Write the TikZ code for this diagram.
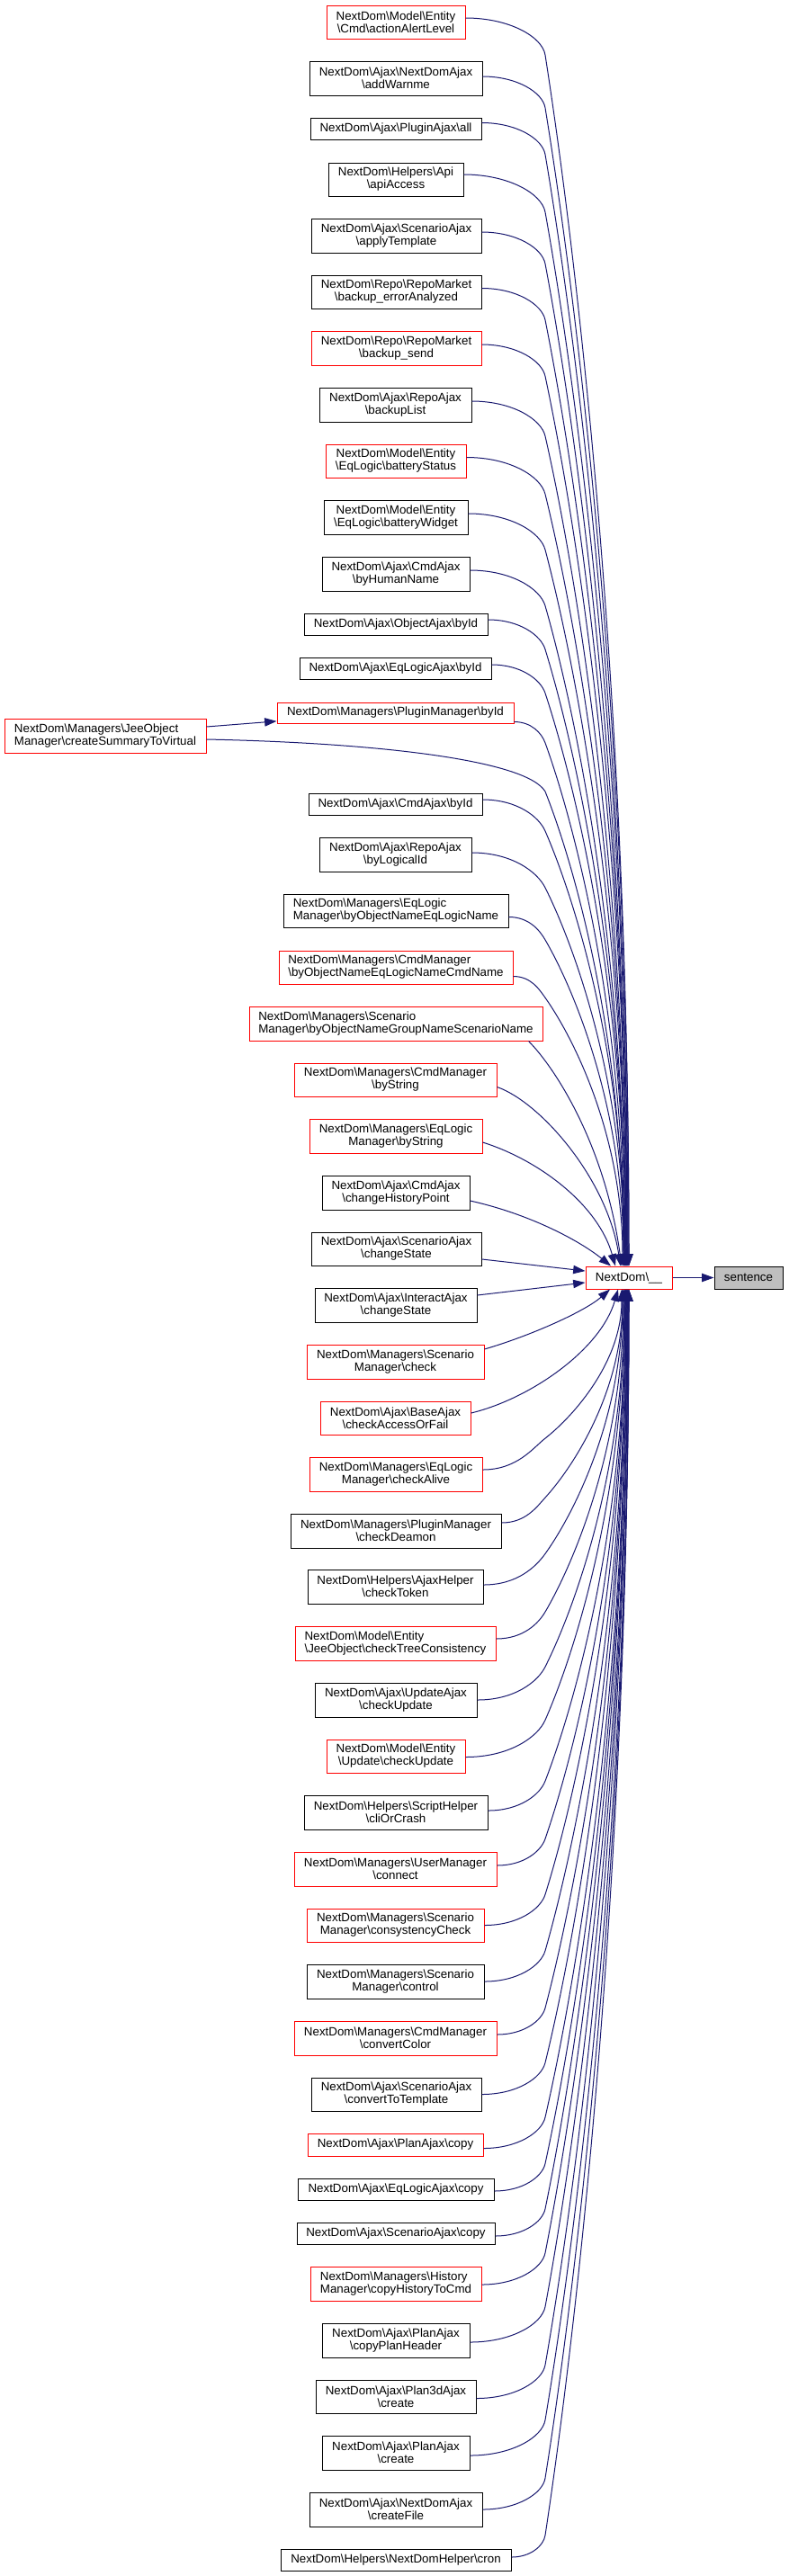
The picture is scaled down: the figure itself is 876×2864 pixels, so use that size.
\documentclass[tikz,border=0pt]{standalone}
\usepackage{fontspec}
\setmainfont{Liberation Sans}
\usetikzlibrary{arrows.meta,calc}
\definecolor{edgec}{HTML}{191970}
\definecolor{graybox}{HTML}{BFBFBF}
\newcommand\bs{\textbackslash}
\newcommand\bx[7]{\node[#6, minimum width={(#4-#2)*0.75pt}, minimum height={(#5-#3)*0.75pt}] (#1) at ({(#2+#4)/2},{(#3+#5)/2}) {#7};}
% far edge: #1 src, #2 start dy (px, +down), #3 tip x (px), #4 anchor, #5 sign (+1 src above, -1 below)
\newcommand\fedge[5]{%
  \path (#1.east); \pgfgetlastxy{\qEX}{\qEY}%
  \path (nd.#4); \pgfgetlastxy{\qTX}{\qTY}%
  \pgfmathsetmacro\qSx{\qEX/0.75}%
  \pgfmathsetmacro\qSy{-\qEY/0.75+#2}%
  \pgfmathsetmacro\qTy{-\qTY/0.75}%
  \pgfmathsetmacro\qHb{12+0.33*(606-\qSx)}%
  \pgfmathsetmacro\qBy{\qSy+#5*\qHb}%
  \pgfmathsetmacro\qD{abs(\qTy-\qBy)}%
  \pgfmathsetmacro\qCby{\qBy+#5*0.157*\qD}%
  \pgfmathsetmacro\qL{veclen(33,0.157*\qD)}%
  \pgfmathsetmacro\qCax{606-33/\qL*0.5*\qHb}%
  \pgfmathsetmacro\qCay{\qBy-#5*0.157*\qD/\qL*0.5*\qHb}%
  \pgfmathsetmacro\qCsx{\qSx+0.55*(606-\qSx)}%
  \pgfmathsetmacro\qCdy{\qTy-#5*0.48*\qD}%
  \draw[edge] ([yshift={-(#2)*0.75pt}]#1.east) .. controls (\qCsx,\qSy) and (\qCax,\qCay) .. (606,\qBy) .. controls (639,\qCby) and (#3,\qCdy) .. ([xshift={(#3-699)*0.75pt}]nd.#4);%
}
\tikzset{
  box/.style={draw, rectangle, inner sep=0pt, line width=0.75pt, font=\fontsize{10}{10.5}\selectfont, align=center, fill=white, text=black},
  rbox/.style={box, draw=red},
  kbox/.style={box, draw=black},
  lr/.style={rbox, align=left},
  lk/.style={kbox, align=left},
  gbox/.style={box, draw=black, fill=graybox},
  edge/.style={draw=edgec, line width=0.75pt, -{Triangle[length=10pt,width=7pt,fill=edgec]}},
}
\begin{document}
\begin{tikzpicture}[x=0.75pt,y=-0.75pt]
\useasboundingbox[fill=white] (0,0) rectangle (876,2864);
\bx{n01}{363}{6}{517}{43}{rbox}{NextDom\bs Model\bs Entity\\\bs Cmd\bs actionAlertLevel}
\bx{n02}{344}{68}{536}{106}{kbox}{NextDom\bs Ajax\bs NextDomAjax\\\bs addWarnme}
\bx{n03}{345}{131}{535}{155}{kbox}{NextDom\bs Ajax\bs PluginAjax\bs all}
\bx{n04}{365}{181}{515}{218}{kbox}{NextDom\bs Helpers\bs Api\\\bs apiAccess}
\bx{n05}{346}{243}{535}{281}{kbox}{NextDom\bs Ajax\bs ScenarioAjax\\\bs applyTemplate}
\bx{n06}{346}{306}{535}{343}{kbox}{NextDom\bs Repo\bs RepoMarket\\\bs backup\_errorAnalyzed}
\bx{n07}{346}{368}{535}{406}{rbox}{NextDom\bs Repo\bs RepoMarket\\\bs backup\_send}
\bx{n08}{355}{431}{524}{469}{kbox}{NextDom\bs Ajax\bs RepoAjax\\\bs backupList}
\bx{n09}{362}{494}{518}{531}{rbox}{NextDom\bs Model\bs Entity\\\bs EqLogic\bs batteryStatus}
\bx{n10}{360}{556}{520}{594}{kbox}{NextDom\bs Model\bs Entity\\\bs EqLogic\bs batteryWidget}
\bx{n11}{358}{619}{522}{657}{kbox}{NextDom\bs Ajax\bs CmdAjax\\\bs byHumanName}
\bx{n12}{338}{682}{542}{706}{kbox}{NextDom\bs Ajax\bs ObjectAjax\bs byId}
\bx{n13}{333}{731}{546}{755}{kbox}{NextDom\bs Ajax\bs EqLogicAjax\bs byId}
\bx{n14}{308}{781}{571}{804}{rbox}{NextDom\bs Managers\bs PluginManager\bs byId}
\bx{n15}{5}{799}{229}{837}{lr}{NextDom\bs Managers\bs JeeObject\\Manager\bs createSummaryToVirtual}
\bx{n16}{343}{882}{536}{906}{kbox}{NextDom\bs Ajax\bs CmdAjax\bs byId}
\bx{n17}{355}{931}{524}{969}{kbox}{NextDom\bs Ajax\bs RepoAjax\\\bs byLogicalId}
\bx{n18}{315}{994}{565}{1031}{lk}{NextDom\bs Managers\bs EqLogic\\Manager\bs byObjectNameEqLogicName}
\bx{n19}{310}{1057}{570}{1094}{lr}{NextDom\bs Managers\bs CmdManager\\\bs byObjectNameEqLogicNameCmdName}
\bx{n20}{277}{1119}{603}{1157}{lr}{NextDom\bs Managers\bs Scenario\\Manager\bs byObjectNameGroupNameScenarioName}
\bx{n21}{327}{1182}{552}{1219}{rbox}{NextDom\bs Managers\bs CmdManager\\\bs byString}
\bx{n22}{344}{1244}{536}{1282}{rbox}{NextDom\bs Managers\bs EqLogic\\Manager\bs byString}
\bx{n23}{358}{1307}{522}{1345}{kbox}{NextDom\bs Ajax\bs CmdAjax\\\bs changeHistoryPoint}
\bx{n24}{346}{1370}{535}{1407}{kbox}{NextDom\bs Ajax\bs ScenarioAjax\\\bs changeState}
\bx{nd}{651}{1408}{747}{1433}{rbox}{NextDom\bs\_\_}
\bx{st}{794}{1408}{870}{1433}{gbox}{sentence}
\bx{n25}{350}{1432}{530}{1470}{kbox}{NextDom\bs Ajax\bs InteractAjax\\\bs changeState}
\bx{n26}{341}{1495}{538}{1533}{rbox}{NextDom\bs Managers\bs Scenario\\Manager\bs check}
\bx{n27}{356}{1558}{523}{1595}{rbox}{NextDom\bs Ajax\bs BaseAjax\\\bs checkAccessOrFail}
\bx{n28}{344}{1620}{536}{1658}{rbox}{NextDom\bs Managers\bs EqLogic\\Manager\bs checkAlive}
\bx{n29}{323}{1683}{557}{1721}{kbox}{NextDom\bs Managers\bs PluginManager\\\bs checkDeamon}
\bx{n30}{342}{1745}{537}{1783}{kbox}{NextDom\bs Helpers\bs AjaxHelper\\\bs checkToken}
\bx{n31}{328}{1808}{551}{1846}{lr}{NextDom\bs Model\bs Entity\\\bs JeeObject\bs checkTreeConsistency}
\bx{n32}{350}{1871}{530}{1909}{kbox}{NextDom\bs Ajax\bs UpdateAjax\\\bs checkUpdate}
\bx{n33}{363}{1934}{517}{1971}{rbox}{NextDom\bs Model\bs Entity\\\bs Update\bs checkUpdate}
\bx{n34}{338}{1996}{542}{2034}{kbox}{NextDom\bs Helpers\bs ScriptHelper\\\bs cliOrCrash}
\bx{n35}{327}{2059}{552}{2097}{rbox}{NextDom\bs Managers\bs UserManager\\\bs connect}
\bx{n36}{341}{2122}{538}{2159}{rbox}{NextDom\bs Managers\bs Scenario\\Manager\bs consystencyCheck}
\bx{n37}{341}{2184}{538}{2222}{kbox}{NextDom\bs Managers\bs Scenario\\Manager\bs control}
\bx{n38}{327}{2247}{552}{2285}{rbox}{NextDom\bs Managers\bs CmdManager\\\bs convertColor}
\bx{n39}{346}{2310}{535}{2347}{kbox}{NextDom\bs Ajax\bs ScenarioAjax\\\bs convertToTemplate}
\bx{n40}{342}{2372}{537}{2397}{rbox}{NextDom\bs Ajax\bs PlanAjax\bs copy}
\bx{n41}{331}{2422}{549}{2446}{kbox}{NextDom\bs Ajax\bs EqLogicAjax\bs copy}
\bx{n42}{330}{2471}{550}{2495}{kbox}{NextDom\bs Ajax\bs ScenarioAjax\bs copy}
\bx{n43}{345}{2520}{535}{2558}{lr}{NextDom\bs Managers\bs History\\Manager\bs copyHistoryToCmd}
\bx{n44}{358}{2583}{522}{2621}{kbox}{NextDom\bs Ajax\bs PlanAjax\\\bs copyPlanHeader}
\bx{n45}{351}{2646}{529}{2683}{kbox}{NextDom\bs Ajax\bs Plan3dAjax\\\bs create}
\bx{n46}{358}{2708}{522}{2746}{kbox}{NextDom\bs Ajax\bs PlanAjax\\\bs create}
\bx{n47}{344}{2771}{536}{2809}{kbox}{NextDom\bs Ajax\bs NextDomAjax\\\bs createFile}
\bx{n48}{312}{2834}{568}{2858}{kbox}{NextDom\bs Helpers\bs NextDomHelper\bs cron}
% far edges from above
\fedge{n01}{-4.5}{699}{north}{1}
\fedge{n02}{-2}{699}{north}{1}
\fedge{n03}{-6.5}{698}{north}{1}
\fedge{n04}{-5.5}{698}{north}{1}
\fedge{n05}{-4}{697}{north}{1}
\fedge{n06}{-4}{697}{north}{1}
\fedge{n07}{-4}{697}{north}{1}
\fedge{n08}{-4}{696}{north}{1}
\fedge{n09}{-4}{696}{north}{1}
\fedge{n10}{-4}{696}{north}{1}
\fedge{n11}{-4}{695}{north}{1}
\fedge{n12}{-5}{695}{north}{1}
\fedge{n13}{-4}{695}{north}{1}
\fedge{n14}{10}{694}{north}{1}
\fedge{n16}{-5}{694}{north}{1}
\fedge{n17}{-2}{694}{north}{1}
\fedge{n18}{7}{693}{north}{1}
\fedge{n19}{10}{692}{north}{1}
% special edges above
\draw[edge] ([yshift=7.5pt]n15.east) -- ([yshift=-7pt]n14.west);
\draw[edge] ([yshift=-3pt]n15.east) .. controls (420,826) and (585,845) .. (606,880) .. controls (639,963) and (693,1155) .. ([xshift=-4.5pt]nd.north);
\draw[edge] ([xshift=-12pt]n20.south east) .. controls (615,1185) and (672,1270) .. ([xshift=-6pt]nd.north);
\draw[edge] ([yshift=-6pt]n21.east) .. controls (600,1225) and (675,1310) .. ([xshift=-7pt]nd.north);
\draw[edge] ([yshift=-5.25pt]n22.east) .. controls (600,1290) and (665,1340) .. ([xshift=-11.25pt]nd.north);
\draw[edge] ([yshift=-6.75pt]n23.east) .. controls (590,1350) and (645,1380) .. ([xshift=-15pt]nd.north);
\draw[edge] ([yshift=-8.6pt]n24.east) -- ([yshift=5.6pt]nd.west);
\draw[edge] ([yshift=8.25pt]n25.east) -- ([yshift=-4.1pt]nd.west);
\draw[edge] ([yshift=10.5pt]n26.east) .. controls (590,1485) and (650,1458) .. ([xshift=-15.75pt]nd.south);
\draw[edge] ([yshift=4.1pt]n27.east) .. controls (590,1555) and (668,1500) .. ([xshift=-9pt]nd.south);
% far edges from below
\fedge{n28}{-5}{691}{south}{-1}
\fedge{n29}{-9}{692}{south}{-1}
\fedge{n30}{-2}{692}{south}{-1}
\fedge{n31}{-5}{693}{south}{-1}
\fedge{n32}{0}{694}{south}{-1}
\fedge{n33}{1}{694}{south}{-1}
\fedge{n34}{-2}{695}{south}{-1}
\fedge{n35}{-4}{695}{south}{-1}
\fedge{n36}{0}{695}{south}{-1}
\fedge{n37}{0}{696}{south}{-1}
\fedge{n38}{-4}{696}{south}{-1}
\fedge{n39}{0}{696}{south}{-1}
\fedge{n40}{4}{697}{south}{-1}
\fedge{n41}{2}{697}{south}{-1}
\fedge{n42}{3}{697}{south}{-1}
\fedge{n43}{1}{698}{south}{-1}
\fedge{n44}{2}{698}{south}{-1}
\fedge{n45}{2}{698}{south}{-1}
\fedge{n46}{3}{699}{south}{-1}
\fedge{n47}{0}{699}{south}{-1}
\fedge{n48}{-3}{699}{south}{-1}
\draw[edge] (nd.east) -- (st.west);
\end{tikzpicture}
\end{document}
